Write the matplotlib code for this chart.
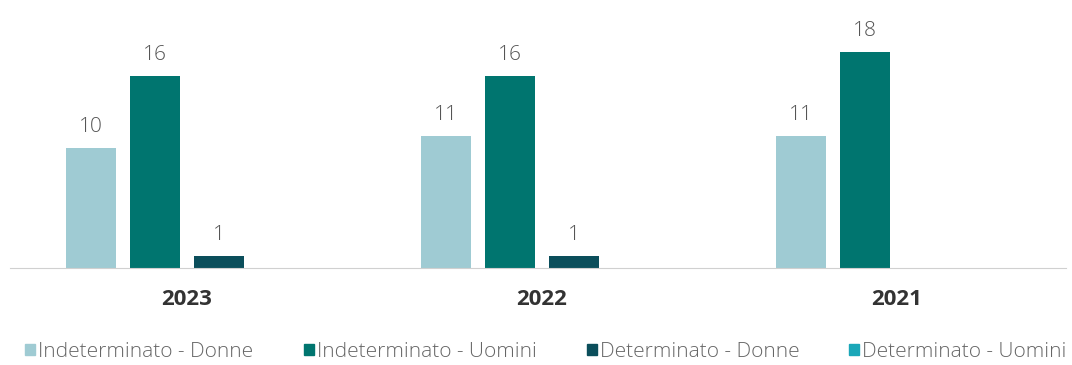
import matplotlib.pyplot as plt
from matplotlib.patches import Patch

plt.rcParams['font.family'] = ['Open Sans', 'DejaVu Sans']

years = ['2023', '2022', '2021']
series = ['Indeterminato - Donne', 'Indeterminato - Uomini',
          'Determinato - Donne', 'Determinato - Uomini']
ind_donne = [10, 11, 11]
ind_uomini = [16, 16, 18]
det_donne = [1, 1, None]
det_uomini = [None, None, None]
colors = ['#9fcbd3', '#00756f', '#0b4e5b', '#1aa7b8']

values = [ind_donne, ind_uomini, det_donne, det_uomini]

W, H = 1072, 365
fig = plt.figure(figsize=(W / 100, H / 100), dpi=100)
ax = fig.add_axes([10 / W, 97 / H, 1056 / W, 258 / H])

slot = 0.18
width = 0.141
for i, (vals, col) in enumerate(zip(values, colors)):
    offset = (i - 1.5) * slot
    for g, v in enumerate(vals):
        if v is None:
            continue
        x = g + offset
        ax.bar(x, v, width=width, color=col)
        ax.annotate(str(v), (x, v), xytext=(0, 15), textcoords='offset points',
                    ha='center', va='center', fontsize=15, fontweight='light',
                    color='#555555')

ax.set_xlim((10 - 187) / 355, (1066 - 187) / 355)
ax.set_ylim(0, 21.5)
ax.set_xticks(range(len(years)))
ax.set_xticklabels(years, fontsize=16, fontweight='bold', color='#333333')
ax.tick_params(axis='x', length=0, pad=15)
ax.set_yticks([])
for s in ['top', 'right', 'left']:
    ax.spines[s].set_visible(False)
ax.spines['bottom'].set_color('#d0d0d0')

handles = [Patch(color=c, label=s) for c, s in zip(colors, series)]
fig.legend(handles=handles, loc='center', bbox_to_anchor=(546 / W, 13 / H), ncol=4,
           frameon=False, handlelength=0.48, handleheight=0.48,
           handletextpad=0.15, columnspacing=2.4, labelcolor='#666666',
           prop={'size': 15, 'weight': 'light'})

fig.savefig('out.png', dpi=100)
